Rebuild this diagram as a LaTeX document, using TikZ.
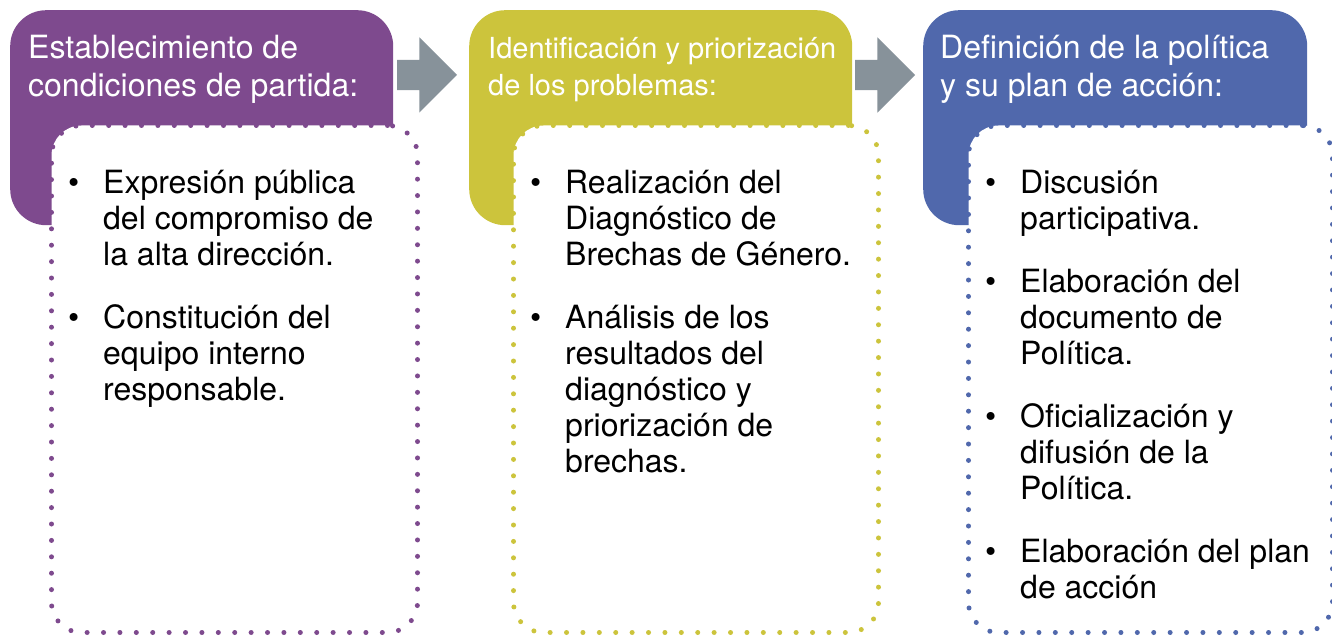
\documentclass[tikz,border=0pt]{standalone}
\usepackage{fontspec}
\setmainfont{TeX Gyre Heros}
\usetikzlibrary{shapes.arrows,positioning}
\definecolor{Morado}{HTML}{7E4A8E}
\definecolor{Oliva}{HTML}{CCC43C}
\definecolor{Azul}{HTML}{5068AC}
\definecolor{Gris}{HTML}{87929A}
\newcommand{\bul}{\llap{\textbullet\hspace{24pt}}}
\newcommand{\tope}{\rule{0pt}{30pt}}
\tikzset{
  header/.style={fill=#1, rounded corners=36pt, minimum width=383pt, minimum height=215pt, anchor=north west, inner sep=0pt},
  headtext/.style={white, font=\fontsize{32}{38}\selectfont, align=left, anchor=north west, inner sep=0pt},
  dotbox/.style={draw=#1, fill=white, line width=5pt, line cap=round, dash pattern=on 0pt off 16.4pt, rounded corners=30pt, minimum height=507pt, anchor=south west, inner sep=0pt},
  itemtext/.style={black, font=\fontsize{32}{36}\selectfont, align=left, anchor=north west, inner sep=0pt},
  flecha/.style={single arrow, fill=Gris, inner xsep=0pt, inner ysep=15pt, outer sep=0pt, minimum height=60pt, single arrow head extend=22.5pt, single arrow tip angle=90, anchor=tail}
}

\begin{document}
\begin{tikzpicture}[x=1pt,y=1pt]
  \useasboundingbox (0,0) rectangle (1332,637);
  \node[header=Morado] (h1) at (10,627) {};
  \node[header=Oliva] (h2) at (469,627) {};
  \node[header=Azul, minimum width=384pt] (h3) at (923,627) {};
  \node[dotbox=Morado, minimum width=366pt] (d1) at (49,2) {};
  \node[dotbox=Oliva, minimum width=365pt] (d2) at (511,2) {};
  \node[dotbox=Azul, minimum width=364pt] (d3) at (966,2) {};
  \node[flecha] (a1) at (397,562) {};
  \node[flecha] (a2) at (855,562) {};
  \node[headtext] (t1) at (28,609) {\tope Establecimiento de\\condiciones de partida:};
  \node[headtext, font=\fontsize{29}{37}\selectfont] (t2) at (488,609) {\tope Identificación y priorización\\de los problemas:};
  \node[headtext] (t3) at (940,609) {\tope Definición de la política\\y su plan de acción:};
  \node[itemtext] (i1) at (103,474) {\tope\bul Expresión pública\\del compromiso de\\la alta dirección.\\[27pt]\bul Constitución del\\equipo interno\\responsable.};
  \node[itemtext] (i2) at (565,474) {\tope\bul Realización del\\Diagnóstico de\\Brechas de Género.\\[27pt]\bul Análisis de los\\resultados del\\diagnóstico y\\priorización de\\brechas.};
  \node[itemtext] (i3) at (1020,474) {\tope\bul Discusión\\participativa.\\[27pt]\bul Elaboración del\\documento de\\Política.\\[27pt]\bul Oficialización y\\difusión de la\\Política.\\[27pt]\bul Elaboración del plan\\de acción};
\end{tikzpicture}
\end{document}
